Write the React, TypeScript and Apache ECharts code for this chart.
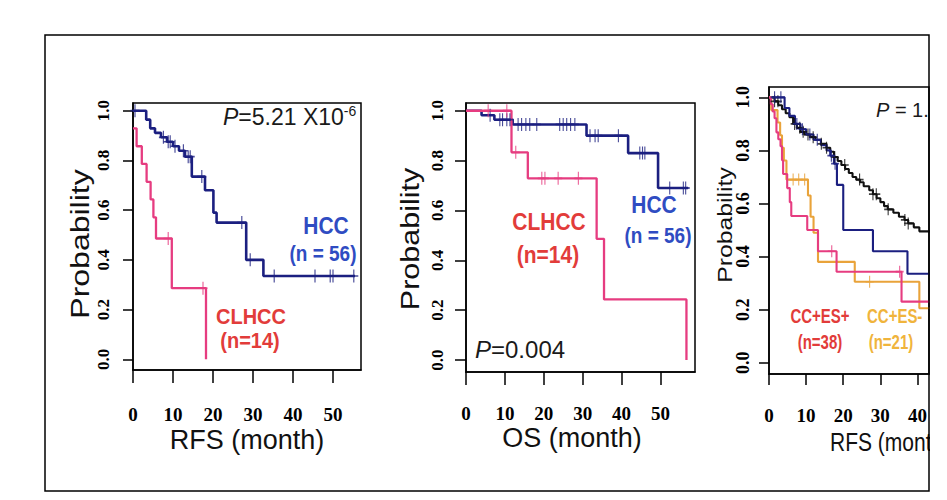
import React, { useEffect, useRef } from "react";
import * as echarts from "echarts";

// ---- axis ticks ----
const yTickValues = [0, 0.2, 0.4, 0.6, 0.8, 1.0];
const xTickValuesAB = [0, 10, 20, 30, 40, 50];
const xTickValuesC = [0, 10, 20, 30, 40];

// ---- Panel A: RFS, HCC vs CLHCC ----
const rfsHccTimes = [0, 3.3, 4.3, 5.5, 7.0, 8.5, 10.0, 11.5, 13.0, 14.7, 18.0, 20.1, 20.9, 28.3, 32.6, 55.5];
const rfsHccSurv = [1.0, 0.964, 0.929, 0.911, 0.893, 0.875, 0.857, 0.839, 0.815, 0.735, 0.68, 0.59, 0.55, 0.40, 0.335, 0.335];
const rfsHccCensor = [0.5, 7.6, 8.8, 9.3, 10.5, 12.6, 13.8, 14.3, 17.2, 27.2, 29.3, 35.3, 45.5, 49.3, 50.0, 55.2];

const rfsClhccTimes = [0, 0.9, 2.2, 3.4, 4.4, 5.1, 5.75, 9.7, 18.25];
const rfsClhccSurv = [0.929, 0.857, 0.786, 0.714, 0.643, 0.571, 0.486, 0.286, 0.0];
const rfsClhccCensor = [8.8, 17.5];

// ---- Panel B: OS, HCC vs CLHCC ----
const osHccTimes = [0, 4.0, 7.3, 12.0, 31.0, 41.7, 49.4, 57.1];
const osHccSurv = [1.0, 0.982, 0.964, 0.945, 0.90, 0.83, 0.69, 0.69];
const osHccCensor = [6.2, 8.7, 9.4, 10.5, 11.3, 13.4, 14.3, 15.4, 16.4, 18.2, 24.1, 25.0, 25.9, 26.9, 28.0, 31.9, 33.2, 34.0, 39.2, 44.7, 45.4, 46.0, 52.4, 55.9, 56.5];

const osClhccTimes = [0, 11.7, 15.9, 33.6, 35.5, 56.7];
const osClhccSurv = [1.0, 0.833, 0.729, 0.486, 0.243, 0.0];
const osClhccCensor = [5.7, 10.5, 12.8, 19.5, 20.3, 23.7, 28.9];

// ---- Panel C: RFS, four groups ----
const rfsBlackTimes = [0, 1.5, 2.5, 3.5, 4.5, 5.5, 6.5, 7.5, 8.5, 9.5, 11, 12.5, 14, 15.5, 16.5, 17.5, 18.5, 19.5, 20.5, 21.5, 22.5, 23.5, 24.5, 25.5, 27, 28, 29, 30, 31, 32, 33.5, 35, 36.5, 37.5, 39, 40.5, 45];
const rfsBlackSurv = [1.0, 0.985, 0.97, 0.955, 0.94, 0.925, 0.90, 0.885, 0.87, 0.86, 0.85, 0.84, 0.825, 0.81, 0.795, 0.775, 0.76, 0.745, 0.73, 0.715, 0.70, 0.69, 0.68, 0.665, 0.65, 0.635, 0.62, 0.605, 0.59, 0.578, 0.565, 0.55, 0.538, 0.525, 0.51, 0.495, 0.495];
const rfsBlackCensor = [1.5, 2.4, 6.9, 8.3, 9.2, 10.5, 11.9, 14.1, 15.5, 17.7, 20.4, 24.4, 28.0, 28.9, 32.1, 36.6, 37.5];

const rfsNavyTimes = [0, 4.2, 5.5, 7, 8.5, 10, 12, 14, 15.5, 16.5, 17.5, 18.3, 20.0, 28.0, 37.3, 45];
const rfsNavySurv = [1.0, 0.96, 0.93, 0.90, 0.88, 0.86, 0.84, 0.82, 0.80, 0.78, 0.75, 0.67, 0.50, 0.42, 0.335, 0.335];
const rfsNavyCensor = [1.5, 3.2, 7.5, 9.0, 11.0, 13.0, 16.8, 17.8];

const rfsCcEsPosTimes = [0, 0.5, 1.0, 1.5, 2.0, 2.5, 3.1, 3.5, 3.8, 4.9, 5.6, 6.0, 10.3, 13.2, 18.2, 35.7, 45];
const rfsCcEsPosSurv = [1.0, 0.974, 0.947, 0.921, 0.868, 0.842, 0.816, 0.763, 0.711, 0.658, 0.605, 0.553, 0.50, 0.42, 0.343, 0.23, 0.23];
const rfsCcEsPosCensor = [16.9, 35.2];

const rfsCcEsNegTimes = [0, 0.6, 2.3, 3.0, 3.5, 4.0, 4.7, 10.5, 11.2, 12.0, 13.2, 23.1, 40.5, 45];
const rfsCcEsNegSurv = [1.0, 0.952, 0.905, 0.857, 0.81, 0.762, 0.69, 0.63, 0.55, 0.49, 0.38, 0.305, 0.205, 0.205];
const rfsCcEsNegCensor = [6.5, 8.0, 9.6, 27.1];

const NAVY = "#1b1f80";
const PINK = "#e63c80";
const ORANGE = "#e9a33a";
const BLUE_TXT = "#2f4cc2";
const RED_TXT = "#e23c3a";
const YELLOW_TXT = "#f0b43c";
const SERIF = "Liberation Serif";
const SANS = "Liberation Sans";

function kmPoints(times: number[], surv: number[]) {
  return times.map((t, i) => [t, surv[i]]);
}
function censorPoints(times: number[], surv: number[], cs: number[]) {
  return cs.map((c) => {
    let v = surv[0];
    for (let i = 0; i < times.length; i++) if (times[i] <= c) v = surv[i];
    return [c, v];
  });
}

const PLUS = "path://M5,0L5,12M0,6L10,6";

function kmSeries(idx: number, name: string, times: number[], surv: number[], cs: number[], color: string, width: number, size: number[]) {
  return [
    {
      type: "line",
      name,
      xAxisIndex: idx,
      yAxisIndex: idx,
      step: "end",
      showSymbol: false,
      silent: true,
      data: kmPoints(times, surv),
      lineStyle: { color, width },
      z: 3,
    },
    {
      type: "scatter",
      name: name + " censored",
      xAxisIndex: idx,
      yAxisIndex: idx,
      silent: true,
      symbol: PLUS,
      symbolSize: size,
      data: censorPoints(times, surv, cs),
      itemStyle: { color: "none", borderColor: color, borderWidth: 1.4 },
      z: 4,
    },
  ];
}

function xAxisCfg(idx: number, max: number, ticks: number[], fontSize: number, margin: number, tickLen: number) {
  return {
    type: "value",
    gridIndex: idx,
    min: 0,
    max,
    axisLine: { show: true, onZero: false, lineStyle: { color: "#000", width: 1.5 } },
    axisTick: { show: true, length: tickLen, customValues: ticks, lineStyle: { color: "#000", width: 1.5 } },
    axisLabel: {
      customValues: ticks,
      margin,
      fontFamily: SERIF,
      fontWeight: "bold",
      fontSize,
      color: "#000",
    },
    splitLine: { show: false },
  };
}

function yAxisCfg(idx: number, min: number, max: number, fontSize: number, margin: number, tickLen: number) {
  return {
    type: "value",
    gridIndex: idx,
    min,
    max,
    axisLine: { show: true, onZero: false, lineStyle: { color: "#000", width: 1.5 } },
    axisTick: { show: true, length: tickLen, customValues: yTickValues, lineStyle: { color: "#000", width: 1.5 } },
    axisLabel: {
      customValues: yTickValues,
      rotate: 90,
      margin,
      fontFamily: SERIF,
      fontWeight: "bold",
      fontSize,
      color: "#000",
      formatter: (v: number) => v.toFixed(1),
    },
    splitLine: { show: false },
  };
}

function txt(text: string, x: number, y: number, size: number, fill: string, opts: any = {}) {
  return {
    type: "text",
    x,
    y,
    rotation: opts.rotation || 0,
    scaleX: opts.scaleX || 1,
    scaleY: opts.scaleY || 1,
    z: 60,
    silent: true,
    style: {
      text,
      fill,
      fontSize: size,
      fontFamily: SANS,
      fontWeight: opts.bold ? "bold" : "normal",
      align: opts.align || "center",
      verticalAlign: "middle",
      textAlign: opts.align || "center",
      textVerticalAlign: "middle",
      rich: opts.rich,
    },
  };
}

export default function App() {
  const ref = useRef<HTMLDivElement>(null);
  useEffect(() => {
    if (!ref.current) return;
    const chart = echarts.init(ref.current, undefined, { renderer: "svg" });
    const gridBase = { show: true, borderColor: "#000", borderWidth: 1.5, backgroundColor: "transparent" };
    const pRich = {
      i: { fontStyle: "italic", fontFamily: SANS, fill: "#1a1a1a", color: "#1a1a1a" },
    };
    const option: any = {
      animation: false,
      backgroundColor: "#fff",
      grid: [
        { ...gridBase, left: 133, top: 103, width: 228, height: 267 },
        { ...gridBase, left: 466, top: 103, width: 229, height: 269 },
        { ...gridBase, left: 769, top: 87, width: 160, height: 287 },
      ],
      xAxis: [
        xAxisCfg(0, 57, xTickValuesAB, 19, 35, 13),
        xAxisCfg(1, 58.9, xTickValuesAB, 19, 32, 13),
        xAxisCfg(2, 43.1, xTickValuesC, 19, 32, 11),
      ],
      yAxis: [
        yAxisCfg(0, -0.043, 1.031, 17, 21, 10),
        yAxisCfg(1, -0.048, 1.031, 17, 20, 11),
        yAxisCfg(2, -0.0426, 1.039, 18, 17, 10),
      ],
      series: [
        ...kmSeries(0, "HCC", rfsHccTimes, rfsHccSurv, rfsHccCensor, NAVY, 2.6, [9, 13]),
        ...kmSeries(0, "CLHCC", rfsClhccTimes, rfsClhccSurv, rfsClhccCensor, PINK, 2.3, [9, 13]),
        ...kmSeries(1, "HCC", osHccTimes, osHccSurv, osHccCensor, NAVY, 2.6, [8, 13]),
        ...kmSeries(1, "CLHCC", osClhccTimes, osClhccSurv, osClhccCensor, PINK, 2.3, [8, 13]),
        ...kmSeries(2, "Group black", rfsBlackTimes, rfsBlackSurv, rfsBlackCensor, "#111", 2.1, [8, 12]),
        ...kmSeries(2, "Group navy", rfsNavyTimes, rfsNavySurv, rfsNavyCensor, NAVY, 2.1, [8, 12]),
        ...kmSeries(2, "CC+ES-", rfsCcEsNegTimes, rfsCcEsNegSurv, rfsCcEsNegCensor, ORANGE, 2.1, [8, 12]),
        ...kmSeries(2, "CC+ES+", rfsCcEsPosTimes, rfsCcEsPosSurv, rfsCcEsPosCensor, PINK, 2.1, [8, 12]),
      ],
      graphic: [
        // axis titles
        txt("Probability", 80, 244, 25, "#111", { rotation: Math.PI / 2, scaleX: 1.28 }),
        txt("Probability", 410, 239, 25, "#111", { rotation: Math.PI / 2, scaleX: 1.22 }),
        txt("Probability", 725, 225, 21, "#111", { rotation: Math.PI / 2, scaleX: 1.18 }),
        txt("RFS (month)", 247, 440, 27, "#111"),
        txt("OS (month)", 572, 438, 27, "#111"),
        txt("RFS (mont", 830, 442, 21, "#111", { align: "left", scaleY: 1.25 }),
        // p-values
        txt("{i|P}=5.21 X10{s|-6}", 223, 117, 23, "#1a1a1a", {
          align: "left",
          rich: { ...pRich, i: { ...pRich.i, fontSize: 23 }, s: { fontSize: 14, verticalAlign: "top", fontFamily: SANS, fill: "#1a1a1a", color: "#1a1a1a", padding: [0, 0, 12, 0] } },
        }),
        txt("{i|P}=0.004", 475, 349, 24, "#1a1a1a", { align: "left", rich: { i: { ...pRich.i, fontSize: 24 } } }),
        txt("{i|P} = 1.1", 876, 110, 20, "#1a1a1a", { align: "left", rich: { i: { ...pRich.i, fontSize: 20 } } }),
        // group labels panel A
        txt("HCC", 326, 226, 21, BLUE_TXT, { bold: true, scaleY: 1.12 }),
        txt("(n = 56)", 323, 254, 19, BLUE_TXT, { bold: true, scaleY: 1.12 }),
        txt("CLHCC", 251, 316, 20, RED_TXT, { bold: true, scaleY: 1.1 }),
        txt("(n=14)", 250, 340, 20, RED_TXT, { bold: true, scaleY: 1.1 }),
        // group labels panel B
        txt("CLHCC", 549, 222, 21, RED_TXT, { bold: true, scaleY: 1.1 }),
        txt("(n=14)", 548, 255, 21, RED_TXT, { bold: true, scaleY: 1.1 }),
        txt("HCC", 654, 205, 21, BLUE_TXT, { bold: true, scaleY: 1.12 }),
        txt("(n = 56)", 658, 236, 19, BLUE_TXT, { bold: true, scaleY: 1.12 }),
        // group labels panel C
        txt("CC+ES+", 820, 316, 15, RED_TXT, { bold: true, scaleY: 1.3 }),
        txt("(n=38)", 820, 342, 15, RED_TXT, { bold: true, scaleY: 1.3 }),
        txt("CC+ES-", 867, 316, 15, YELLOW_TXT, { bold: true, scaleY: 1.3, align: "left" }),
        txt("(n=21)", 891, 342, 15, YELLOW_TXT, { bold: true, scaleY: 1.3 }),
        // mask to crop the third panel at the frame
        {
          type: "rect",
          z: 90,
          silent: true,
          shape: { x: 930, y: 0, width: 30, height: 500 },
          style: { fill: "#fff", stroke: "none" },
        },
        // outer frame
        {
          type: "rect",
          z: 95,
          silent: true,
          shape: { x: 45, y: 35, width: 884, height: 456 },
          style: { fill: "none", stroke: "#000", lineWidth: 1.5 },
        },
      ],
    };
    chart.setOption(option);
    return () => chart.dispose();
  }, []);
  return (
    <div
      ref={ref}
      style={{ position: "fixed", left: 0, top: 0, width: 947, height: 500, background: "#fff" }}
    />
  );
}
